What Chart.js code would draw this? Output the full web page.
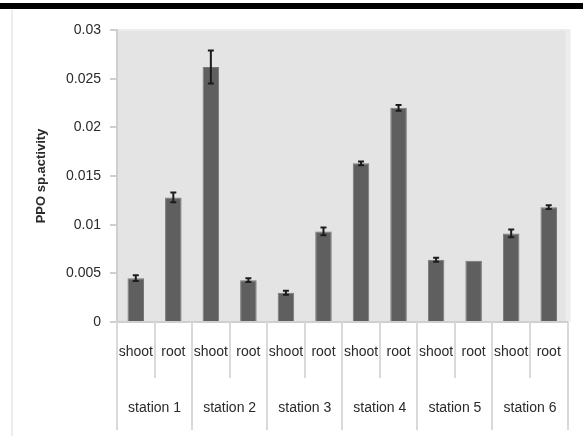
<!DOCTYPE html>
<html>
<head>
<meta charset="utf-8">
<script src="https://cdn.jsdelivr.net/npm/chart.js@4/dist/chart.umd.min.js"></script>
<style>
  html, body { margin: 0; padding: 0; background: #ffffff; }
  #wrap { position: relative; width: 583px; height: 436px; overflow: hidden; }
  #topband { position: absolute; left: 0; top: 3px; width: 583px; height: 6px; background: #000; }
  #edge { position: absolute; left: 11px; top: 10px; width: 2px; height: 426px; background: #ececec; }
  canvas { position: absolute; left: 0; top: 0; }
</style>
</head>
<body>
<div id="wrap">
  <div id="topband"></div>
  <div id="edge"></div>
  <canvas id="c" width="583" height="436"></canvas>
</div>
<script>
// Sampling stations and plant parts
const stations = ['station 1', 'station 2', 'station 3', 'station 4', 'station 5', 'station 6'];
const parts = ['shoot', 'root'];

// PPO specific activity, shoot/root for each station
const activity = [0.0045, 0.0128, 0.0262, 0.0043, 0.0030, 0.0093, 0.0163, 0.0220, 0.0064, 0.0063, 0.0091, 0.0118];
// Standard error of each mean
const stdErr = [0.0003, 0.0005, 0.0017, 0.0002, 0.0002, 0.0004, 0.0002, 0.0003, 0.0002, 0.0000, 0.0004, 0.0002];

// Y axis tick values
const yTicks = [0, 0.005, 0.01, 0.015, 0.02, 0.025, 0.03];

const labels = [];
stations.forEach(() => parts.forEach(p => labels.push(p)));

const FONT = "'Liberation Sans', Arial, sans-serif";

// Grey plot background
const plotBg = {
  id: 'plotBg',
  beforeDraw(chart) {
    const { ctx, chartArea: a } = chart;
    ctx.save();
    ctx.fillStyle = '#ececec';
    ctx.fillRect(a.left, a.top - 1, a.right - a.left + 3, a.bottom - a.top + 1);
    ctx.fillStyle = '#e4e4e4';
    ctx.fillRect(a.left, a.top + 1, a.right - a.left - 2, a.bottom - a.top - 1);
    ctx.restore();
  }
};

// Error bars on top of each bar
const errorBars = {
  id: 'errorBars',
  afterDatasetsDraw(chart) {
    const { ctx } = chart;
    const y = chart.scales.y;
    const meta = chart.getDatasetMeta(0);
    ctx.save();
    ctx.strokeStyle = '#1c1c1c';
    ctx.lineWidth = 2;
    meta.data.forEach((bar, i) => {
      const e = stdErr[i];
      if (!e) return;
      const v = activity[i];
      const top = y.getPixelForValue(v + e);
      const bot = y.getPixelForValue(v - e);
      ctx.beginPath();
      ctx.moveTo(bar.x, top);
      ctx.lineTo(bar.x, bot);
      ctx.moveTo(bar.x - 3, top);
      ctx.lineTo(bar.x + 3, top);
      ctx.moveTo(bar.x - 3, bot);
      ctx.lineTo(bar.x + 3, bot);
      ctx.stroke();
    });
    ctx.restore();
  }
};

// Two-level category axis: part separators, station separators and station names
const groupAxis = {
  id: 'groupAxis',
  afterDraw(chart) {
    const { ctx, chartArea: a } = chart;
    const x = chart.scales.x;
    const n = labels.length;
    const edge = i => {
      if (i === 0) return x.getPixelForValue(0) - (x.getPixelForValue(1) - x.getPixelForValue(0)) / 2;
      if (i === n) return x.getPixelForValue(n - 1) + (x.getPixelForValue(n - 1) - x.getPixelForValue(n - 2)) / 2;
      return (x.getPixelForValue(i - 1) + x.getPixelForValue(i)) / 2;
    };
    ctx.save();
    ctx.strokeStyle = '#d9d9d9';
    ctx.lineWidth = 2;
    for (let i = 0; i <= n; i++) {
      const px = Math.round(edge(i));
      const long = i % parts.length === 0;
      ctx.beginPath();
      ctx.moveTo(px, a.bottom);
      ctx.lineTo(px, long ? a.bottom + 108 : a.bottom + 56);
      ctx.stroke();
    }
    ctx.fillStyle = '#2a2a2a';
    ctx.font = '14px ' + FONT;
    ctx.textAlign = 'center';
    ctx.textBaseline = 'middle';
    stations.forEach((s, k) => {
      const cx = (edge(k * parts.length) + edge((k + 1) * parts.length)) / 2;
      ctx.fillText(s, cx, a.bottom + 86);
    });
    ctx.restore();
  }
};

new Chart(document.getElementById('c'), {
  type: 'bar',
  data: {
    labels: labels,
    datasets: [{
      data: activity,
      backgroundColor: '#5f5f5f',
      borderColor: '#777777',
      borderWidth: 1,
      barPercentage: 0.44,
      categoryPercentage: 1.0
    }]
  },
  options: {
    responsive: false,
    animation: false,
    devicePixelRatio: 1,
    layout: { padding: { top: 30, right: 5, left: 0, bottom: 0 } },
    plugins: {
      legend: { display: false },
      tooltip: { enabled: false }
    },
    scales: {
      x: {
        offset: true,
        grid: { display: false, drawTicks: false },
        border: { display: true, color: '#cfcfcf', width: 2 },
        ticks: {
          color: '#2a2a2a',
          font: { family: FONT, size: 14 },
          padding: 22,
          maxRotation: 0,
          autoSkip: false
        },
        afterFit(scale) { scale.height = 114; }
      },
      y: {
        min: 0,
        max: 0.03,
        afterBuildTicks(scale) { scale.ticks = yTicks.map(v => ({ value: v })); },
        grid: { drawOnChartArea: false, drawTicks: true, tickLength: 7, color: '#cfcfcf', lineWidth: 2 },
        border: { display: true, color: '#cfcfcf', width: 2 },
        ticks: {
          color: '#2a2a2a',
          font: { family: FONT, size: 14 },
          padding: 9,
          callback: v => String(Number(v.toFixed(3)))
        },
        title: {
          display: true,
          text: 'PPO sp.activity',
          color: '#2a2a2a',
          font: { family: FONT, size: 13, weight: 'bold' },
          padding: { top: 34, bottom: 0 }
        },
        afterFit(scale) { scale.width = 117; }
      }
    }
  },
  plugins: [plotBg, errorBars, groupAxis]
});
</script>
</body>
</html>
